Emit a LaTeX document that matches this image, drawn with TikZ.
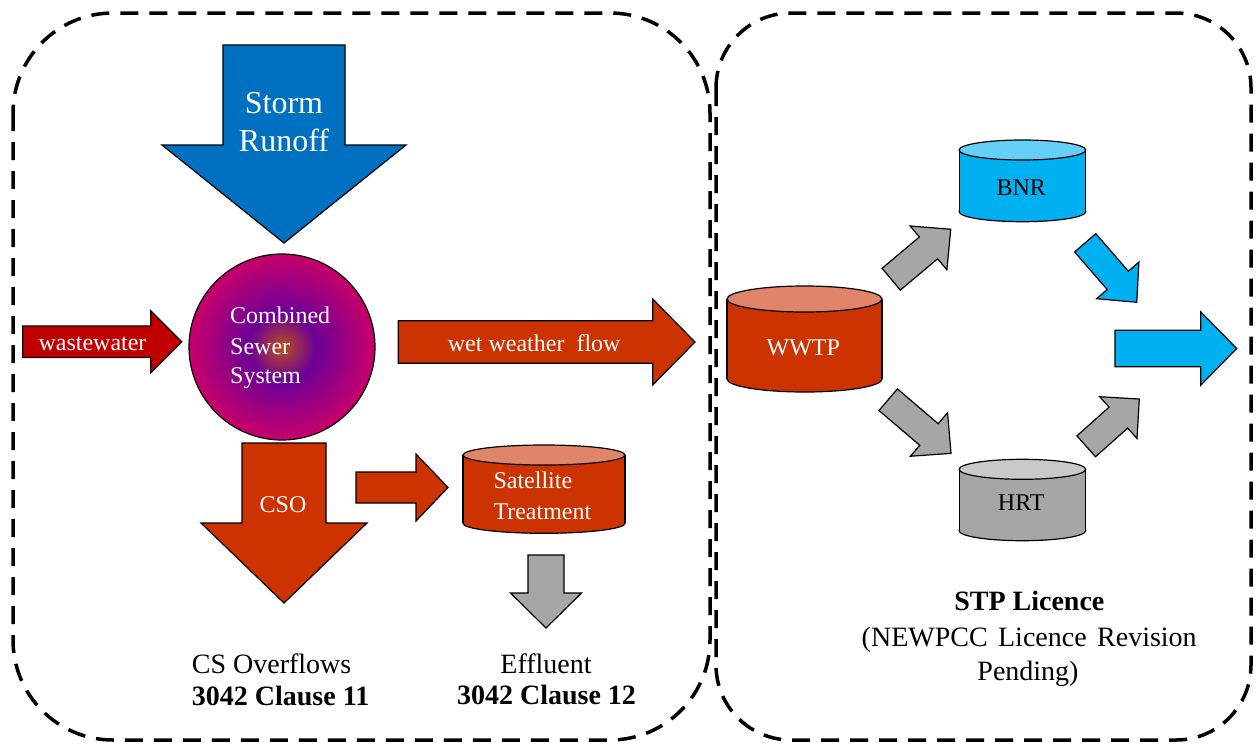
\documentclass[tikz,border=0pt]{standalone}
\usepackage{fontspec}
\setmainfont{Liberation Serif}
\usetikzlibrary{calc}

\definecolor{stormblue}{HTML}{0070C0}
\definecolor{wwred}{HTML}{C00000}
\definecolor{flowred}{HTML}{CC3300}
\definecolor{flowtop}{HTML}{E0856A}
\definecolor{grayfill}{HTML}{A6A6A6}
\definecolor{graytop}{HTML}{C9C9C9}
\definecolor{bnrblue}{HTML}{00B0F0}
\definecolor{bnrtop}{HTML}{66CFF6}
\definecolor{sewerc}{HTML}{B8501C}
\definecolor{sewerp}{HTML}{6C0098}
\definecolor{sewerm}{HTML}{C8006A}

\pgfdeclareradialshading{sewershade}{\pgfpointorigin}{%
  color(0bp)=(sewerc); color(9bp)=(sewerp); color(25bp)=(sewerm); color(50bp)=(sewerm)}

% block arrow: style, tail centre, angle, length, shaft half width, head half width, head length
\newcommand\blockarr[7]{%
  \begin{scope}[shift={#2}, rotate=#3]
    \filldraw[shapeline,#1] (0,-#5) -- ({#4-#7},-#5) -- ({#4-#7},-#6) -- (#4,0)
      -- ({#4-#7},#6) -- ({#4-#7},#5) -- (0,#5) -- cycle;
  \end{scope}}

% cylinder: cx, top cy, bottom cy, rx, ry, body colour, top colour
\newcommand\mydrum[7]{%
  \filldraw[shapeline, fill=#6] (#1,#3) ellipse[x radius=#4pt, y radius=#5pt];
  \fill[#6] ({#1-#4},#2) rectangle ({#1+#4},#3);
  \draw[shapeline] ({#1-#4},#2) -- ({#1-#4},#3) ({#1+#4},#2) -- ({#1+#4},#3);
  \filldraw[shapeline, fill=#7] (#1,#2) ellipse[x radius=#4pt, y radius=#5pt];}

\tikzset{
  shapeline/.style={draw=black, line width=1.2pt, line join=miter},
  dashbox/.style={draw=black, line width=3.5pt, dash pattern=on 18pt off 11pt},
  lbl/.style={inner sep=0pt, anchor=base},
  intext/.style={lbl, text=white, font=\fontsize{24}{28}\selectfont},
  darktext/.style={lbl, text=black, font=\fontsize{24}{28}\selectfont},
  captext/.style={lbl, text=black, font=\fontsize{28}{34}\selectfont},
  stormtext/.style={lbl, text=white, font=\fontsize{32}{38}\selectfont},
}

\begin{document}
\begin{tikzpicture}[x=1pt, y=-1pt]
\useasboundingbox (0,0) rectangle (1257,744);
\fill[white] (0,0) rectangle (1257,744);

% dashed regions
\draw[dashbox, rounded corners=100pt] (13,13) rectangle (710,740);
\draw[dashbox, rounded corners=75pt] (716,13) rectangle (1251,740);

% left part arrows
\blockarr{fill=stormblue}{(284,45)}{-90}{198}{61}{122}{98}
\blockarr{fill=wwred}{(22.7,341.7)}{0}{159}{15.7}{31}{31}
\blockarr{fill=flowred}{(398.3,342)}{0}{296.7}{21.2}{43}{42.3}
\blockarr{fill=flowred}{(284,443)}{-90}{160}{42}{83}{80}
\blockarr{fill=flowred}{(356,487.5)}{0}{92}{15.5}{33.5}{32}
\blockarr{fill=grayfill}{(546,555)}{-90}{73}{18}{35.5}{35}

% combined sewer system
\shade[shading=sewershade] (282,347) circle[radius=93pt];
\draw[shapeline] (282,347) circle[radius=93pt];

% satellite treatment
\mydrum{544}{455}{523.3}{81}{10}{flowred}{flowtop}

% right part
\mydrum{804.5}{299}{379}{77.5}{13}{flowred}{flowtop}
\mydrum{1022.4}{150}{211.7}{63.3}{10}{bnrblue}{bnrtop}
\mydrum{1022.4}{469.3}{530.7}{63.3}{10}{grayfill}{graytop}

\blockarr{fill=grayfill}{(891.2,279.2)}{40}{77.7}{14.2}{28.6}{29}
\blockarr{fill=grayfill}{(888.2,399.7)}{-40.5}{82.6}{14.2}{28.6}{29}
\blockarr{fill=bnrblue}{(1085.2,242.8)}{-49.1}{78.7}{14}{28}{29}
\blockarr{fill=grayfill}{(1086.2,446.3)}{41.7}{71.1}{14}{28}{28}
\blockarr{fill=bnrblue}{(1115,348.5)}{0}{121.7}{18.3}{36.7}{36}

% texts
\node[stormtext] (storm1) at (284,113) {Storm};
\node[stormtext] (storm2) at (284,151.7) {Runoff};
\node[intext] (ww) at (92.5,350) {wastewater};
\node[intext] (wet) at (534.2,351.7) {wet weather\ \ flow};
\node[intext, anchor=base west] (css1) at (230,323.3) {Combined};
\node[intext, anchor=base west] (css2) at (230,354) {Sewer};
\node[intext, anchor=base west] (css3) at (230,383.3) {System};
\node[intext] (cso) at (283,512.7) {CSO};
\node[intext, anchor=base west] (sat1) at (493.3,488.3) {Satellite};
\node[intext, anchor=base west] (sat2) at (493.3,519) {Treatment};
\node[intext] (wwtp) at (803.3,355) {WWTP};
\node[darktext] (bnr) at (1021.2,195) {BNR};
\node[darktext] (hrt) at (1021.2,510) {HRT};

\node[captext, anchor=base west] (cs1) at (191.7,673.3) {CS Overflows};
\node[captext, anchor=base west, font=\fontsize{28}{34}\selectfont\bfseries] (cs2) at (191.7,705.5) {3042 Clause 11};
\node[captext] (eff1) at (546,673.3) {Effluent};
\node[captext, font=\fontsize{28}{34}\selectfont\bfseries] (eff2) at (546.5,704) {3042 Clause 12};

\node[captext, font=\fontsize{28}{34}\selectfont\bfseries] (stp1) at (1029.3,610.7) {STP Licence};
\node[captext] (stp2) at (1029.2,646) {\makebox[335pt][s]{(NEWPCC Licence Revision}};
\node[captext] (stp3) at (1028,680) {Pending)};
\end{tikzpicture}
\end{document}
